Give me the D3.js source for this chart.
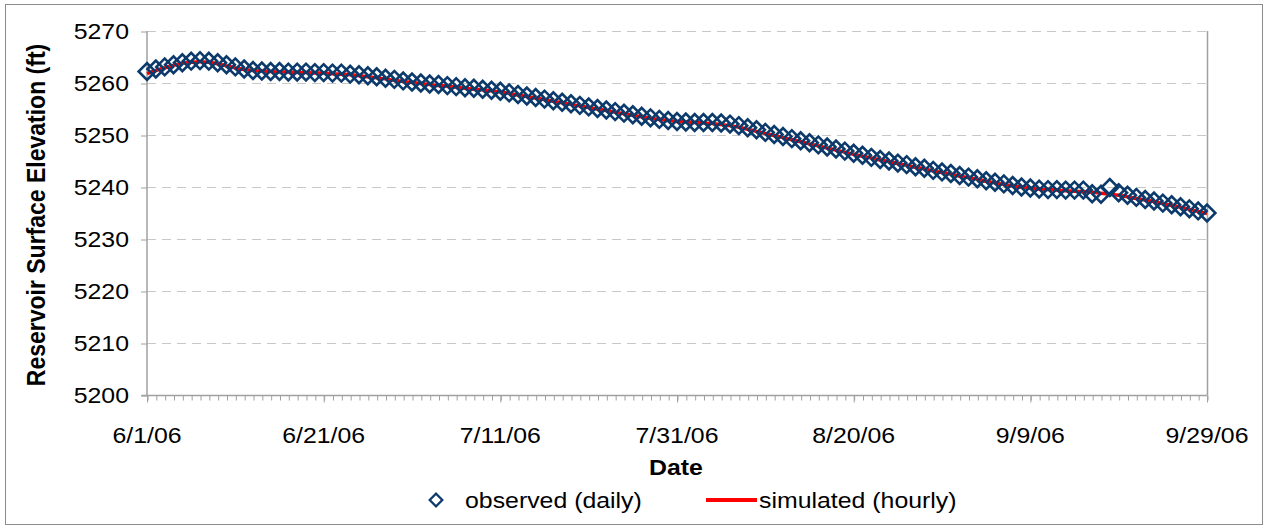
<!DOCTYPE html>
<html>
<head>
<meta charset="utf-8">
<script src="https://cdn.jsdelivr.net/npm/d3@7"></script>
<style>
  html, body { margin: 0; padding: 0; background: #fff; }
  svg { display: block; font-family: 'Liberation Sans', Arial, sans-serif; }
</style>
</head>
<body>
<svg id="chart" width="1268" height="529"></svg>
<script>
// x tick labels (every 20 days) and y ticks
const X_TICKS = ['6/1/06', '6/21/06', '7/11/06', '7/31/06', '8/20/06', '9/9/06', '9/29/06'];
const Y_TICKS = [5200, 5210, 5220, 5230, 5240, 5250, 5260, 5270];
const START_DATE = '6/1/06';

// observed, one value per day from 6/1/06 (ft)
const OBSERVED = [
  5262.2, 5262.7, 5263.1, 5263.5, 5263.9, 5264.2, 5264.3, 5264.2, 5263.9, 5263.5,
  5263.1, 5262.7, 5262.4, 5262.3, 5262.2, 5262.2, 5262.1, 5262.1, 5262.1, 5262.0,
  5262.0, 5261.9, 5261.9, 5261.7, 5261.6, 5261.4, 5261.2, 5260.9, 5260.7, 5260.4,
  5260.2, 5260.0, 5259.8, 5259.7, 5259.5, 5259.3, 5259.1, 5259.0, 5258.8, 5258.6,
  5258.4, 5258.1, 5257.8, 5257.5, 5257.2, 5256.9, 5256.6, 5256.3, 5256.0, 5255.7,
  5255.4, 5255.1, 5254.8, 5254.5, 5254.2, 5253.9, 5253.6, 5253.3, 5253.0, 5252.8,
  5252.6, 5252.5, 5252.4, 5252.4, 5252.4, 5252.3, 5252.1, 5251.8, 5251.4, 5251.0,
  5250.5, 5250.1, 5249.7, 5249.3, 5248.9, 5248.5, 5248.1, 5247.7, 5247.3, 5246.9,
  5246.5, 5246.1, 5245.7, 5245.3, 5245.0, 5244.6, 5244.3, 5243.9, 5243.6, 5243.2,
  5242.9, 5242.6, 5242.2, 5241.9, 5241.6, 5241.2, 5240.9, 5240.6, 5240.3, 5240.0,
  5239.8, 5239.6, 5239.5, 5239.5, 5239.4, 5239.4, 5239.4, 5238.7, 5238.6, 5239.9,
  5238.9, 5238.4, 5238.0, 5237.6, 5237.3, 5236.9, 5236.6, 5236.2, 5235.8, 5235.4,
  5235.0
];

// simulated, read once per day off the hourly line (ft)
const SIMULATED = [
  5261.8, 5262.4, 5262.9, 5263.4, 5263.8, 5264.0, 5264.1, 5264.0, 5263.7, 5263.3,
  5262.9, 5262.6, 5262.4, 5262.3, 5262.2, 5262.1, 5262.1, 5262.0, 5262.0, 5261.9,
  5261.9, 5261.8, 5261.7, 5261.6, 5261.4, 5261.2, 5261.0, 5260.8, 5260.5, 5260.3,
  5260.1, 5259.9, 5259.7, 5259.5, 5259.4, 5259.2, 5259.0, 5258.8, 5258.7, 5258.5,
  5258.3, 5258.0, 5257.7, 5257.4, 5257.1, 5256.8, 5256.5, 5256.2, 5255.9, 5255.6,
  5255.3, 5255.0, 5254.7, 5254.4, 5254.1, 5253.8, 5253.5, 5253.2, 5253.0, 5252.8,
  5252.6, 5252.5, 5252.4, 5252.3, 5252.2, 5252.0, 5251.8, 5251.5, 5251.1, 5250.7,
  5250.3, 5249.9, 5249.5, 5249.1, 5248.7, 5248.3, 5247.9, 5247.5, 5247.1, 5246.7,
  5246.3, 5245.9, 5245.6, 5245.2, 5244.9, 5244.5, 5244.2, 5243.8, 5243.5, 5243.1,
  5242.8, 5242.5, 5242.1, 5241.8, 5241.5, 5241.1, 5240.8, 5240.5, 5240.2, 5240.0,
  5239.8, 5239.6, 5239.5, 5239.4, 5239.3, 5239.2, 5239.1, 5239.0, 5238.8, 5238.6,
  5238.4, 5238.1, 5237.8, 5237.5, 5237.2, 5236.8, 5236.5, 5236.1, 5235.7, 5235.3,
  5234.9
];

const SVG = d3.select('#chart');
const WIDTH = +SVG.attr('width');
const HEIGHT = +SVG.attr('height');
const LEFT = 147;
const RIGHT = 1207;
const TOP = 31;
const BOTTOM = 395;
const FONT = 22;
const STRETCH = 1.13; // text in the picture is a bit wider than Arial

const parse = d3.timeParse('%m/%d/%y');
const start = parse(START_DATE);
const dayOf = (i) => d3.timeDay.offset(start, i);
const tickDates = X_TICKS.map(parse);

const X_SCALE = d3.scaleTime()
  .domain([tickDates[0], tickDates[tickDates.length - 1]])
  .range([LEFT, RIGHT]);
const Y_SCALE = d3.scaleLinear()
  .domain([5200, 5270])
  .range([BOTTOM, TOP]);

// outer frame
SVG.append('rect')
  .attr('x', 5.5).attr('y', 4.5)
  .attr('width', WIDTH - 11).attr('height', HEIGHT - 9)
  .style('fill', 'none').style('stroke', '#8c8c8c').style('stroke-width', 1);

// gridlines
SVG.append('g')
  .attr('id', 'grid')
  .selectAll('line')
  .data(Y_TICKS.filter((d) => d !== 5200))
  .join('line')
  .attr('x1', LEFT).attr('x2', RIGHT)
  .attr('y1', (d) => Math.round(Y_SCALE(d)) + 0.5)
  .attr('y2', (d) => Math.round(Y_SCALE(d)) + 0.5)
  .style('stroke', '#c8c8c8')
  .style('stroke-width', 1)
  .style('stroke-dasharray', '9,6');

// right border of plot
SVG.append('line')
  .attr('x1', RIGHT + 0.5).attr('x2', RIGHT + 0.5)
  .attr('y1', TOP).attr('y2', BOTTOM)
  .style('stroke', '#a0a0a0').style('stroke-width', 1.5);

// y axis
const Y_AXIS_G = SVG.append('g')
  .attr('id', 'yAxis')
  .attr('transform', `translate(${LEFT}, 0.5)`);
d3.axisLeft(Y_SCALE).tickValues(Y_TICKS).tickSize(6).tickFormat('')(Y_AXIS_G);
Y_AXIS_G.select('.domain').remove();
Y_AXIS_G.append('line')
  .attr('x1', 0).attr('x2', 0).attr('y1', TOP - 0.5).attr('y2', BOTTOM)
  .style('stroke', '#a0a0a0').style('stroke-width', 1.5);
Y_AXIS_G.selectAll('.tick line').style('stroke', '#a0a0a0').style('stroke-width', 1);

// x axis: minor ticks each day, longer at labels
const X_AXIS_G = SVG.append('g')
  .attr('id', 'xAxis')
  .attr('transform', `translate(0.5, ${BOTTOM + 0.5})`);
d3.axisBottom(X_SCALE)
  .tickValues(d3.timeDay.range(tickDates[0], d3.timeDay.offset(tickDates[6], 1)))
  .tickSize(5)
  .tickFormat('')(X_AXIS_G);
X_AXIS_G.select('.domain').remove();
X_AXIS_G.selectAll('.tick line').style('stroke', '#a0a0a0').style('stroke-width', 1);
X_AXIS_G.selectAll('.major')
  .data(tickDates)
  .join('line')
  .attr('x1', (d) => X_SCALE(d)).attr('x2', (d) => X_SCALE(d))
  .attr('y1', 0).attr('y2', 7)
  .style('stroke', '#a0a0a0');
X_AXIS_G.append('line')
  .attr('x1', LEFT - 6).attr('x2', RIGHT).attr('y1', 0).attr('y2', 0)
  .style('stroke', '#a0a0a0').style('stroke-width', 1.5);

// stretched text helper
function label(x, y, txt, anchor, bold, rot, size) {
  return SVG.append('text')
    .attr('transform', `translate(${x}, ${y}) scale(${STRETCH}, 1)${rot ? ' rotate(-90)' : ''}`)
    .style('text-anchor', anchor)
    .style('font-size', `${size || FONT}px`)
    .style('font-weight', bold ? 'bold' : 'normal')
    .style('fill', '#000')
    .text(txt);
}

Y_TICKS.forEach((d) => label(129, Y_SCALE(d) + 8, d, 'end'));
X_TICKS.forEach((d, i) => label(X_SCALE(tickDates[i]), 443, d, 'middle'));

label(676, 475, 'Date', 'middle', true);
label(45, (TOP + BOTTOM) / 2 + 2, 'Reservoir Surface Elevation (ft)', 'middle', true, true, 23);

// simulated line
SVG.append('path')
  .datum(SIMULATED)
  .attr('d', d3.line().x((d, i) => X_SCALE(dayOf(i))).y((d) => Y_SCALE(d)).curve(d3.curveMonotoneX))
  .style('fill', 'none')
  .style('stroke', '#ff0000')
  .style('stroke-width', 3.5);

// observed diamonds
const diamond = d3.symbol().type(d3.symbolSquare).size(140);
SVG.append('g')
  .attr('id', 'observed')
  .selectAll('path')
  .data(OBSERVED)
  .join('path')
  .attr('transform', (d, i) => `translate(${X_SCALE(dayOf(i))}, ${Y_SCALE(d)}) rotate(45)`)
  .attr('d', diamond)
  .style('fill', 'none')
  .style('stroke', '#0b3a6b')
  .style('stroke-width', 2.6);

// legend
const LEG_Y = 500;
SVG.append('path')
  .attr('transform', `translate(436, ${LEG_Y}) rotate(45)`)
  .attr('d', d3.symbol().type(d3.symbolSquare).size(80))
  .style('fill', 'none')
  .style('stroke', '#0b3a6b')
  .style('stroke-width', 2.2);
label(465, LEG_Y + 8, 'observed (daily)', 'start');
SVG.append('line')
  .attr('x1', 706).attr('x2', 757).attr('y1', LEG_Y).attr('y2', LEG_Y)
  .style('stroke', '#ff0000').style('stroke-width', 4);
label(759, LEG_Y + 8, 'simulated (hourly)', 'start');
</script>
</body>
</html>
